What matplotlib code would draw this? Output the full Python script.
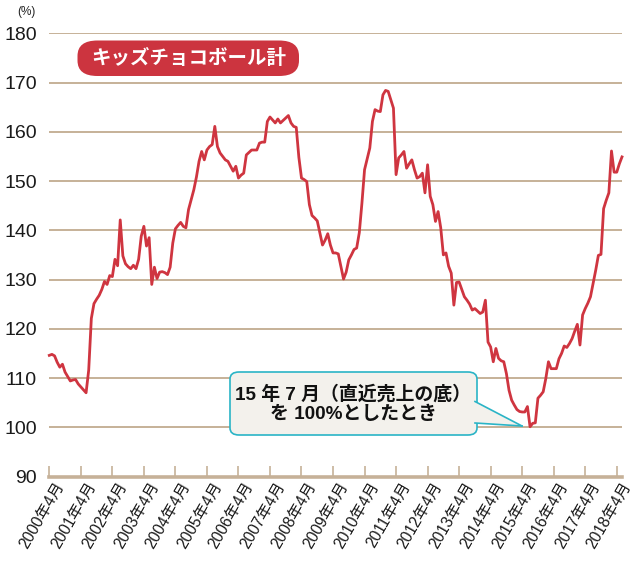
import matplotlib
matplotlib.use("Agg")
import matplotlib.pyplot as plt
from matplotlib.patches import FancyBboxPatch, Polygon
from matplotlib.lines import Line2D
import matplotlib.transforms as mtransforms
import numpy as np

plt.rcParams['font.family'] = ['Liberation Sans', 'Noto Sans CJK JP', 'DejaVu Sans']

# Monthly index (%), 2000年4月 = month 0, 2015年7月 = 100
values = [
    114.6, 114.8, 114.5, 113.2, 112.2, 112.8, 111.2, 110.3, 109.4, 109.6,
    109.7, 108.8, 108.2, 107.6, 107.0, 111.6, 122.1, 125.1, 126.0, 126.8,
    128.0, 129.6, 129.0, 130.8, 130.6, 134.1, 132.8, 142.1, 134.8, 133.2,
    132.6, 132.2, 132.9, 132.2, 134.1, 138.8, 140.8, 136.8, 138.5, 129.0,
    132.5, 130.2, 131.5, 131.6, 131.4, 131.0, 132.5, 137.4, 140.3, 141.0,
    141.6, 140.8, 140.5, 144.2, 146.2, 148.2, 150.8, 154.0, 156.0, 154.3,
    156.3, 157.0, 157.4, 161.1, 157.0, 155.7, 155.0, 154.3, 154.0, 153.0,
    152.0, 153.0, 150.6, 151.2, 151.6, 155.3, 155.8, 156.3, 156.3, 156.3,
    157.7, 157.9, 157.9, 162.1, 163.0, 162.4, 161.8, 162.6, 161.8, 162.3,
    162.8, 163.3, 161.8, 161.1, 160.9, 154.8, 150.6, 150.3, 149.9, 145.2,
    143.0, 142.5, 141.9, 139.4, 137.0, 138.0, 139.3, 137.0, 135.4, 135.4,
    135.2, 132.7, 130.1, 131.5, 134.0, 135.0, 136.1, 136.4, 139.5, 145.5,
    152.3, 154.5, 156.7, 162.1, 164.5, 164.2, 164.1, 167.5, 168.4, 168.2,
    166.5, 164.8, 151.3, 154.7, 155.3, 156.0, 152.6, 153.5, 154.3, 152.3,
    150.6, 150.9, 151.6, 147.6, 153.3, 146.9, 145.2, 141.8, 143.8, 140.5,
    135.0, 135.4, 132.7, 131.3, 124.8, 129.4, 129.5, 128.0, 126.5, 125.8,
    125.0, 123.8, 124.1, 123.6, 123.1, 123.4, 125.8, 117.3, 116.3, 113.3,
    116.0, 114.0, 113.5, 113.3, 110.9, 107.5, 105.5, 104.5, 103.6, 103.2,
    103.1, 103.1, 104.2, 100.1, 100.8, 100.9, 105.9, 106.5, 107.2, 109.9,
    113.3, 111.9, 111.9, 111.9, 113.9, 115.0, 116.5, 116.2, 117.0, 118.0,
    119.5, 120.9, 116.7, 122.8, 124.1, 125.2, 126.5, 129.2, 131.9, 134.9,
    135.1, 144.4, 146.1, 147.6, 156.1, 151.8, 151.8, 153.5, 154.9,
]
months = list(range(len(values)))

tick_years = list(range(2000, 2019))
tick_labels = [f"{y}年4月" for y in tick_years]
y_ticks = [90, 100, 110, 120, 130, 140, 150, 160, 170, 180]

title_text = "キッズチョコボール計"
note_text = "15 年 7 月（直近売上の底）\nを 100%としたとき"

W, H = 640, 562
fig = plt.figure(figsize=(W / 100, H / 100), dpi=100)
ax = fig.add_axes([49.3 / W, 1 - 476.5 / H, (622 - 49.3) / W, (476.5 - 33.3) / H])

tan = '#c6b198'
red = '#cf3540'

ax.plot(months, values, color=red, lw=2.0, solid_joinstyle='round', zorder=3, clip_on=False)

ax.set_xlim(0, 218)
ax.set_ylim(90, 180)
ax.set_yticks(y_ticks)
ax.set_yticklabels([str(v) for v in y_ticks], fontsize=14, color='#1a1a1a')
ax.tick_params(axis='y', length=0, pad=9)
for v in y_ticks[1:]:
    ax.axhline(v, color=tan, lw=1.4, zorder=1)

ax.set_xticks([12 * i for i in range(len(tick_years))])
ax.set_xticklabels(tick_labels, rotation=60, ha='right', va='center',
                   rotation_mode='anchor', fontsize=11.2, color='#1a1a1a')
ax.tick_params(axis='x', direction='in', length=8, width=1.2, color=tan, pad=5)
offset = mtransforms.ScaledTranslation(8 / 72, 0, fig.dpi_scale_trans)
for lab in ax.get_xticklabels():
    lab.set_transform(lab.get_transform() + offset)

for s in ['top', 'right', 'left']:
    ax.spines[s].set_visible(False)
ax.spines['bottom'].set_color(tan)
ax.spines['bottom'].set_linewidth(2.6)
ax.spines['bottom'].set_zorder(4)

fig.text(26 / W, 1 - 12 / H, "(%)", fontsize=8.5, ha='center', va='center', color='#222222')

# Title badge
bx0, bx1, by0, by1 = 77.5, 299, 40.5, 76
badge = FancyBboxPatch((bx0 / W, 1 - by1 / H), (bx1 - bx0) / W, (by1 - by0) / H,
                       boxstyle=f"round,pad=0,rounding_size={17.5 / H}",
                       transform=fig.transFigure, facecolor='#cc343f', edgecolor='none',
                       mutation_aspect=H / W, zorder=5)
fig.patches.append(badge)
fig.text((bx0 + bx1) / 2 / W, 1 - 58.5 / H, title_text, fontsize=14, fontweight='bold',
         color='white', ha='center', va='center', zorder=6,
         family=['Noto Sans CJK JP', 'DejaVu Sans'])

# Callout
cx0, cx1, cy0, cy1 = 230, 477, 372, 435
box_fc = '#f3f1ec'
box_ec = '#2ab4c6'
callout = FancyBboxPatch((cx0 / W, 1 - cy1 / H), (cx1 - cx0) / W, (cy1 - cy0) / H,
                         boxstyle=f"round,pad=0,rounding_size={8 / H}",
                         transform=fig.transFigure, facecolor=box_fc, edgecolor=box_ec,
                         lw=1.2, mutation_aspect=H / W, zorder=5)
fig.patches.append(callout)
tail_pts = [(cx1 - 2, 401.5), (522, 426), (cx1 - 2, 423)]
tail = Polygon([(x / W, 1 - y / H) for x, y in tail_pts], closed=True,
               transform=fig.transFigure, facecolor=box_fc, edgecolor='none', zorder=6)
fig.patches.append(tail)
for a, b in [(0, 1), (1, 2)]:
    fig.lines.append(Line2D([tail_pts[a][0] / W, tail_pts[b][0] / W],
                            [1 - tail_pts[a][1] / H, 1 - tail_pts[b][1] / H],
                            transform=fig.transFigure, color=box_ec, lw=1.2, zorder=7))
fig.text(353 / W, 1 - 404 / H, note_text, fontsize=13.6, fontweight='bold', color='#111111',
         ha='center', va='center', linespacing=1.2, zorder=8,
         family=['Liberation Sans', 'Noto Sans CJK JP', 'DejaVu Sans'])

fig.savefig('out.png', dpi=100, facecolor='white')
